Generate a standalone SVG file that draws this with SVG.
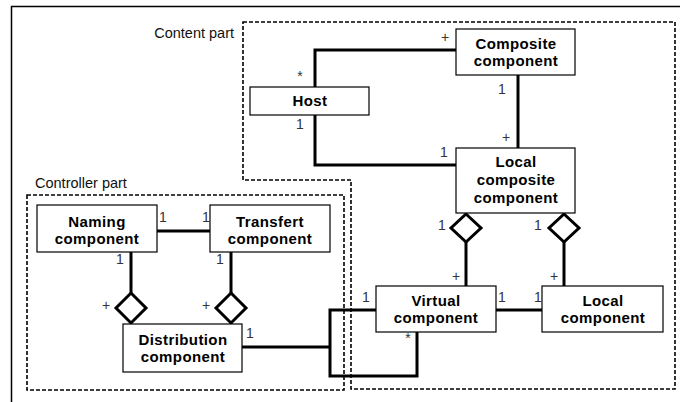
<svg xmlns="http://www.w3.org/2000/svg" width="680" height="402" viewBox="0 0 680 402">
<style>
.frame{fill:none;stroke:#000;stroke-width:1.5}
.dash{fill:none;stroke:#000;stroke-width:1.6;stroke-dasharray:4 2}
.box{fill:#fff;stroke:#000;stroke-width:1.2}
.lbl{font-family:"Liberation Sans",Arial,sans-serif;font-size:15px;font-weight:bold;letter-spacing:0.4px;text-anchor:middle;fill:#000}
.part{font-family:"Liberation Sans",Arial,sans-serif;font-size:14.5px;fill:#111}
.m{font-family:"Liberation Sans",Arial,sans-serif;font-size:14px;fill:#333;text-anchor:middle}
.c{fill:none;stroke:#000;stroke-width:3}
.dia{fill:#fff;stroke:#000;stroke-width:3}
</style>
<rect width="680" height="402" fill="#fff"/>
<path class="frame" d="M11.5,402 V6.5 H680"/>
<g id="content-part">
<path class="dash" d="M243,22 H675 V389 H351 V180 H243 Z"/>
<text class="part" x="234" y="38" text-anchor="end">Content part</text>
</g>
<g id="controller-part">
<path class="dash" d="M27,195 H344 V390 H27 Z"/>
<text class="part" x="35" y="188">Controller part</text>
</g>
<g id="connectors">
<path class="c" d="M456,50 H315 V87"/>
<path class="c" d="M315,115 V165 H456"/>
<path class="c" d="M518,75 V148"/>
<path class="c" d="M466,242 V286"/>
<path class="c" d="M564,242 V286"/>
<path class="c" d="M496,310 H542"/>
<path class="c" d="M157,231 H210"/>
<path class="c" d="M131,252 V293"/>
<path class="c" d="M231,252 V293"/>
<path class="c" d="M376,310 H330 V376 H417 V332"/>
<path class="c" d="M242,347 H330"/>
<path class="dia" d="M466,214 L481,228 L466,242 L451,228 Z"/>
<path class="dia" d="M564,214 L579,228 L564,242 L549,228 Z"/>
<path class="dia" d="M131,293 L146,308 L131,323 L116,308 Z"/>
<path class="dia" d="M231,293 L246,308 L231,323 L216,308 Z"/>
<text class="m" x="300" y="81">*</text>
<text class="m" x="300" y="129">1</text>
<text class="m" x="445" y="42">+</text>
<text class="m" x="502" y="94">1</text>
<text class="m" x="506" y="142">+</text>
<text class="m" x="444" y="157">1</text>
<text class="m" x="442" y="230">1</text>
<text class="m" x="538" y="230">1</text>
<text class="m" x="456" y="281">+</text>
<text class="m" x="554" y="281">+</text>
<text class="m" x="366" y="302">1</text>
<text class="m" x="502" y="302">1</text>
<text class="m" x="538" y="302">1</text>
<text class="m" x="408" y="343">*</text>
<text class="m" x="163" y="222">1</text>
<text class="m" x="206" y="222">1</text>
<text class="m" x="120" y="264">1</text>
<text class="m" x="220" y="264">1</text>
<text class="m" x="106" y="310">+</text>
<text class="m" x="206" y="310">+</text>
<text class="m" x="250" y="338">1</text>
</g>
<g id="host">
<rect class="box" x="250" y="87" width="119" height="28"/>
<text class="lbl" x="310" y="106">Host</text>
</g>
<g id="composite">
<rect class="box" x="456" y="29" width="119" height="46"/>
<text class="lbl" x="516" y="49">Composite</text>
<text class="lbl" x="516" y="66">component</text>
</g>
<g id="local-composite">
<rect class="box" x="456" y="148" width="119" height="65"/>
<text class="lbl" x="516" y="167">Local</text>
<text class="lbl" x="516" y="185">composite</text>
<text class="lbl" x="516" y="203">component</text>
</g>
<g id="virtual">
<rect class="box" x="376" y="286" width="120" height="46"/>
<text class="lbl" x="436" y="306">Virtual</text>
<text class="lbl" x="436" y="323">component</text>
</g>
<g id="local">
<rect class="box" x="542" y="286" width="121" height="46"/>
<text class="lbl" x="603" y="306">Local</text>
<text class="lbl" x="603" y="323">component</text>
</g>
<g id="naming">
<rect class="box" x="37" y="205" width="120" height="47"/>
<text class="lbl" x="97" y="227">Naming</text>
<text class="lbl" x="97" y="244">component</text>
</g>
<g id="transfert">
<rect class="box" x="210" y="205" width="120" height="47"/>
<text class="lbl" x="270" y="227">Transfert</text>
<text class="lbl" x="270" y="244">component</text>
</g>
<g id="distribution">
<rect class="box" x="123" y="324" width="119" height="48"/>
<text class="lbl" x="183" y="345">Distribution</text>
<text class="lbl" x="183" y="362">component</text>
</g>
</svg>
